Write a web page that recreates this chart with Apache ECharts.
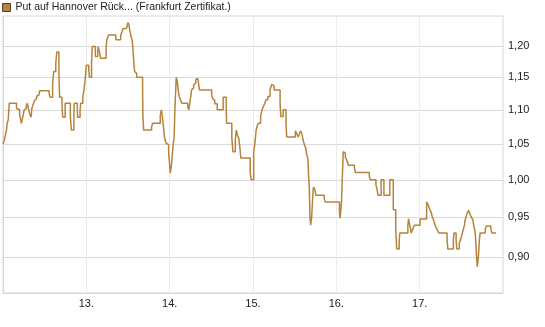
<!DOCTYPE html>
<html>
<head>
<meta charset="utf-8">
<script src="https://cdn.jsdelivr.net/npm/echarts@6/dist/echarts.min.js"></script>
<style>
  html, body { margin: 0; padding: 0; background: #fff; }
  #chart { width: 545px; height: 327px; }
</style>
</head>
<body>
<div id="chart"></div>
<script>
// hours since day 12, 00:00
const hours = [
  0, 0.4, 0.7, 1.0, 1.2, 1.5, 1.8, 3.9, 4.2, 4.8, 5.1, 5.3, 5.8, 6.1, 6.4, 6.7, 7.0, 7.3, 7.8, 8.1,
  8.3, 8.6, 8.8, 9.1, 9.4, 9.7, 10.0, 10.3, 10.6, 13.3, 13.6, 14.3, 14.6, 15.2, 15.5, 16.1, 16.3, 17.0, 17.2, 17.9,
  19.4, 19.7, 20.4, 20.5, 21.4, 21.5, 22.2, 22.4, 23.0, 23.3, 23.7, 24.0, 24.7, 24.9, 25.5, 25.7, 26.6, 27.3, 27.4, 27.8,
  28.1, 29.7, 29.9, 30.4, 32.5, 33.9, 34.3, 34.6, 35.6, 36.0, 36.3, 36.4, 36.9, 37.2, 37.4, 37.7, 37.9, 38.2, 38.5, 40.2,
  40.3, 40.5, 42.8, 43.1, 45.3, 45.6, 45.9, 46.2, 46.5, 46.7, 47.0, 47.4, 47.7, 48.0, 48.2, 48.5, 48.8, 49.0, 49.3, 49.5,
  49.7, 49.9, 50.2, 50.5, 50.8, 51.1, 51.5, 53.2, 53.5, 53.8, 54.1, 54.3, 54.6, 54.9, 55.2, 55.5, 55.8, 56.1, 56.4, 56.6,
  60.1, 60.4, 60.7, 61.0, 61.7, 63.4, 64.3, 64.4, 65.9, 66.2, 66.9, 67.2, 67.5, 67.9, 68.2, 68.5, 71.2, 71.5, 72.2, 72.6,
  72.9, 73.2, 73.5, 74.2, 74.6, 75.0, 75.4, 75.7, 76.3, 76.9, 77.4, 77.8, 78.1, 79.8, 80.0, 80.7, 81.5, 81.7, 84.2, 84.6,
  85.0, 85.3, 85.7, 86.1, 86.4, 86.8, 87.2, 87.5, 87.8, 88.0, 88.2, 88.4, 88.6, 88.9, 89.2, 89.4, 89.8, 90.1, 92.5, 92.8,
  96.9, 97.1, 97.5, 97.7, 98.0, 98.3, 98.6, 98.9, 99.2, 99.4, 101.2, 101.5, 105.5, 105.8, 107.4, 107.7, 108.0, 108.9, 109.7, 111.4,
  112.4, 113.1, 113.4, 114.1, 114.3, 116.6, 116.8, 117.2, 117.6, 117.9, 118.2, 118.5, 120.1, 122.0, 122.5, 122.9, 123.3, 123.6, 124.0, 124.3,
  124.7, 125.1, 125.5, 127.9, 128.1, 129.7, 129.9, 130.5, 130.7, 131.4, 131.7, 132.0, 132.3, 132.6, 132.9, 133.1, 133.4, 133.7, 134.1, 134.5,
  134.9, 135.3, 135.6, 136.0, 136.4, 136.6, 136.9, 137.2, 137.4, 138.9, 139.2, 140.5, 140.8, 142.0
];

const prices = [
  1.050, 1.056, 1.063, 1.070, 1.080, 1.085, 1.110, 1.102, 1.100, 1.092, 1.085, 1.080, 1.092, 1.100, 1.102, 1.106, 1.110, 1.102, 1.092, 1.089,
  1.102, 1.104, 1.110, 1.114, 1.117, 1.121, 1.122, 1.125, 1.129, 1.124, 1.119, 1.141, 1.159, 1.172, 1.190, 1.156, 1.119, 1.105, 1.089, 1.110,
  1.090, 1.070, 1.090, 1.110, 1.100, 1.089, 1.100, 1.110, 1.120, 1.129, 1.148, 1.169, 1.161, 1.150, 1.172, 1.199, 1.183, 1.190, 1.199, 1.190,
  1.180, 1.199, 1.210, 1.218, 1.210, 1.218, 1.224, 1.229, 1.232, 1.239, 1.235, 1.229, 1.215, 1.210, 1.196, 1.172, 1.159, 1.156, 1.150, 1.130,
  1.090, 1.070, 1.075, 1.080, 1.092, 1.100, 1.090, 1.075, 1.060, 1.056, 1.051, 1.049, 1.037, 1.020, 1.009, 1.020, 1.037, 1.049, 1.060, 1.100,
  1.125, 1.150, 1.143, 1.128, 1.119, 1.115, 1.110, 1.105, 1.100, 1.110, 1.122, 1.130, 1.133, 1.138, 1.141, 1.146, 1.148, 1.150, 1.146, 1.130,
  1.122, 1.117, 1.114, 1.109, 1.100, 1.119, 1.100, 1.080, 1.060, 1.039, 1.056, 1.070, 1.063, 1.058, 1.046, 1.030, 1.009, 1.000, 1.039, 1.053,
  1.070, 1.076, 1.080, 1.091, 1.100, 1.105, 1.110, 1.115, 1.120, 1.130, 1.139, 1.136, 1.130, 1.110, 1.090, 1.100, 1.080, 1.060, 1.069, 1.065,
  1.060, 1.064, 1.069, 1.064, 1.056, 1.049, 1.044, 1.034, 1.030, 1.007, 0.991, 0.951, 0.940, 0.951, 0.977, 0.990, 0.987, 0.979, 0.975, 0.970,
  0.955, 0.949, 0.971, 1.000, 1.039, 1.037, 1.031, 1.028, 1.025, 1.020, 1.016, 1.010, 1.004, 1.000, 0.993, 0.988, 0.979, 1.000, 0.979, 1.000,
  0.960, 0.934, 0.910, 0.921, 0.930, 0.939, 0.948, 0.939, 0.930, 0.934, 0.937, 0.940, 0.948, 0.970, 0.966, 0.960, 0.957, 0.951, 0.947, 0.942,
  0.937, 0.934, 0.930, 0.921, 0.910, 0.921, 0.930, 0.921, 0.910, 0.917, 0.921, 0.925, 0.930, 0.935, 0.940, 0.947, 0.951, 0.956, 0.959, 0.954,
  0.950, 0.947, 0.939, 0.930, 0.900, 0.888, 0.900, 0.921, 0.930, 0.935, 0.939, 0.935, 0.930, 0.930
];

const priceTicks = [0.90, 0.95, 1.00, 1.05, 1.10, 1.15, 1.20];
const seriesName = 'Put auf Hannover Rück... (Frankfurt Zertifikat.)';

const chart = echarts.init(document.getElementById('chart'));

const option = {
  animation: false,
  textStyle: { fontFamily: 'Liberation Sans, Arial, sans-serif' },
  legend: {
    left: 2,
    top: 2,
    padding: 0,
    itemWidth: 8,
    itemHeight: 8,
    icon: 'rect',
    textStyle: { fontSize: 10.5, color: '#222' },
    data: [{ name: seriesName, itemStyle: { color: '#b5843c', borderColor: '#5a4020', borderWidth: 1 } }]
  },
  grid: {
    left: 3,
    right: 42,
    top: 16,
    bottom: 34,
    show: true,
    borderColor: '#d6d6d6',
    borderWidth: 1
  },
  xAxis: {
    type: 'value',
    min: 0,
    max: 144,
    interval: 24,
    axisLine: { show: true, lineStyle: { color: '#d6d6d6' } },
    axisTick: { show: false },
    splitLine: { show: true, lineStyle: { color: '#ececec' } },
    axisLabel: {
      color: '#222',
      fontSize: 11,
      margin: 5,
      showMinLabel: false,
      showMaxLabel: false,
      formatter: v => (12 + v / 24) + '.'
    }
  },
  yAxis: {
    type: 'log',
    logBase: 10,
    position: 'right',
    min: 0.857,
    max: 1.25,
    axisLine: { show: true, lineStyle: { color: '#d6d6d6' } },
    axisTick: { show: false, customValues: priceTicks },
    splitLine: { show: true, lineStyle: { color: '#dadada' } },
    axisLabel: {
      color: '#222',
      fontSize: 11,
      margin: 5,
      customValues: priceTicks,
      formatter: v => v.toFixed(2).replace('.', ',')
    }
  },
  series: [{
    name: seriesName,
    type: 'line',
    step: 'end',
    showSymbol: false,
    color: '#b5843c',
    lineStyle: { width: 1.5, color: '#b5843c' },
    data: hours.map((h, i) => [h, prices[i]])
  }]
};

chart.setOption(option);
</script>
</body>
</html>
